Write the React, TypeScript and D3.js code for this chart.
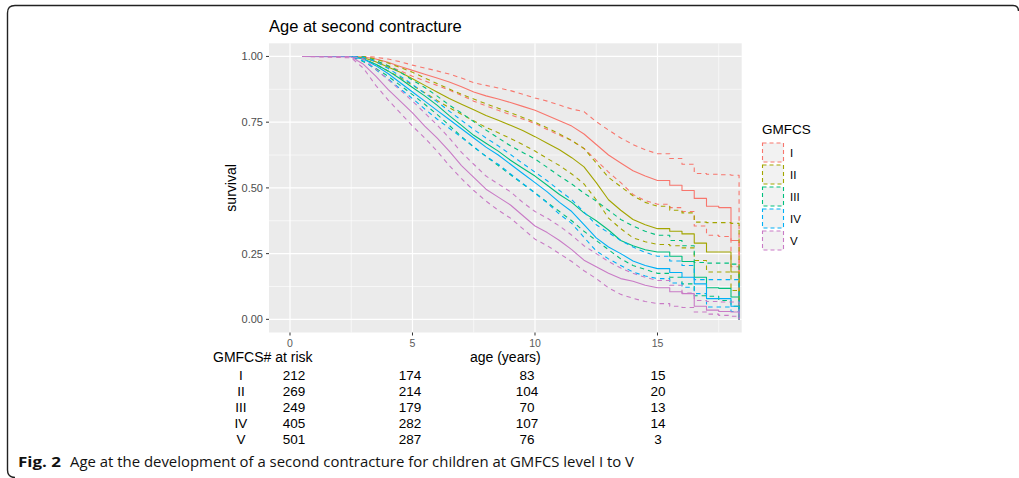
import React from "react";
import * as d3 from "d3";

const times = [0.5, 2.5, 3, 3.5, 4, 4.5, 5, 5.5, 6, 6.5, 7, 7.5, 8, 8.5, 9, 9.5, 10, 10.5, 11, 11.5, 12, 12.5, 13, 13.5, 14, 14.5, 15, 15.5, 16, 16.5, 17, 17.5, 18, 18.33];

const survI = [1, 1, 0.998, 0.99, 0.978, 0.962, 0.947, 0.932, 0.918, 0.903, 0.885, 0.865, 0.85, 0.838, 0.825, 0.81, 0.795, 0.775, 0.755, 0.735, 0.705, 0.665, 0.625, 0.595, 0.565, 0.545, 0.528, 0.51, 0.49, 0.46, 0.43, 0.425, 0.3, 0];
const upperI = [1, 1, 1, 0.997, 0.99, 0.98, 0.967, 0.956, 0.945, 0.933, 0.918, 0.9, 0.89, 0.88, 0.87, 0.856, 0.842, 0.83, 0.815, 0.8, 0.79, 0.752, 0.72, 0.69, 0.665, 0.645, 0.63, 0.612, 0.59, 0.555, 0.552, 0.55, 0.548, 0];
const lowerI = [1, 1, 0.993, 0.982, 0.965, 0.945, 0.925, 0.907, 0.89, 0.872, 0.852, 0.83, 0.812, 0.795, 0.778, 0.762, 0.745, 0.722, 0.7, 0.68, 0.65, 0.605, 0.56, 0.52, 0.475, 0.452, 0.438, 0.425, 0.41, 0.355, 0.32, 0.315, 0.2, 0];

const survII = [1, 1, 0.995, 0.98, 0.96, 0.94, 0.915, 0.89, 0.865, 0.84, 0.818, 0.797, 0.775, 0.757, 0.738, 0.718, 0.695, 0.67, 0.645, 0.615, 0.58, 0.52, 0.455, 0.415, 0.38, 0.36, 0.345, 0.335, 0.325, 0.29, 0.256, 0.256, 0.18, 0];
const upperII = [1, 1, 1, 0.99, 0.975, 0.958, 0.94, 0.918, 0.897, 0.876, 0.856, 0.838, 0.82, 0.803, 0.786, 0.768, 0.75, 0.728, 0.705, 0.68, 0.65, 0.595, 0.54, 0.505, 0.47, 0.445, 0.43, 0.415, 0.405, 0.37, 0.368, 0.368, 0.365, 0];
const lowerII = [1, 1, 0.99, 0.97, 0.945, 0.92, 0.89, 0.862, 0.833, 0.805, 0.78, 0.755, 0.73, 0.71, 0.688, 0.665, 0.64, 0.612, 0.585, 0.553, 0.515, 0.455, 0.385, 0.345, 0.31, 0.295, 0.285, 0.28, 0.272, 0.224, 0.18, 0.18, 0.11, 0];

const survIII = [1, 1, 0.99, 0.97, 0.945, 0.915, 0.882, 0.85, 0.815, 0.775, 0.738, 0.7, 0.67, 0.64, 0.605, 0.575, 0.545, 0.51, 0.475, 0.445, 0.405, 0.375, 0.34, 0.3, 0.28, 0.265, 0.256, 0.24, 0.22, 0.16, 0.12, 0.118, 0.085, 0];
const upperIII = [1, 1, 0.998, 0.985, 0.965, 0.94, 0.91, 0.882, 0.85, 0.815, 0.785, 0.752, 0.72, 0.69, 0.66, 0.635, 0.61, 0.578, 0.545, 0.515, 0.48, 0.45, 0.415, 0.38, 0.355, 0.335, 0.32, 0.3, 0.28, 0.216, 0.214, 0.214, 0.21, 0];
const lowerIII = [1, 1, 0.98, 0.955, 0.925, 0.89, 0.855, 0.818, 0.78, 0.738, 0.695, 0.655, 0.62, 0.585, 0.55, 0.515, 0.482, 0.445, 0.41, 0.375, 0.335, 0.3, 0.265, 0.23, 0.205, 0.19, 0.175, 0.16, 0.135, 0.09, 0.088, 0.072, 0.05, 0];

const survIV = [1, 1, 0.99, 0.965, 0.935, 0.9, 0.865, 0.83, 0.795, 0.76, 0.725, 0.69, 0.655, 0.625, 0.59, 0.555, 0.52, 0.485, 0.445, 0.41, 0.36, 0.31, 0.275, 0.25, 0.222, 0.205, 0.193, 0.178, 0.16, 0.135, 0.079, 0.079, 0.05, 0];
const upperIV = [1, 1, 0.997, 0.98, 0.955, 0.925, 0.893, 0.86, 0.828, 0.792, 0.757, 0.722, 0.69, 0.66, 0.627, 0.593, 0.56, 0.527, 0.49, 0.455, 0.408, 0.36, 0.33, 0.3, 0.275, 0.255, 0.24, 0.222, 0.205, 0.151, 0.151, 0.151, 0.151, 0];
const lowerIV = [1, 1, 0.983, 0.95, 0.915, 0.877, 0.84, 0.8, 0.762, 0.727, 0.692, 0.657, 0.62, 0.59, 0.553, 0.517, 0.48, 0.443, 0.4, 0.365, 0.312, 0.26, 0.23, 0.205, 0.18, 0.165, 0.155, 0.138, 0.122, 0.098, 0.047, 0.047, 0.03, 0];

const survV = [1, 0.998, 0.97, 0.925, 0.875, 0.83, 0.785, 0.735, 0.69, 0.64, 0.585, 0.54, 0.495, 0.465, 0.435, 0.395, 0.355, 0.33, 0.3, 0.265, 0.225, 0.2, 0.175, 0.155, 0.145, 0.13, 0.12, 0.105, 0.098, 0.05, 0.035, 0.03, 0.028, 0];
const upperV = [1, 1, 0.99, 0.952, 0.912, 0.872, 0.83, 0.785, 0.74, 0.69, 0.635, 0.59, 0.545, 0.515, 0.485, 0.445, 0.41, 0.385, 0.355, 0.32, 0.28, 0.25, 0.22, 0.195, 0.175, 0.16, 0.148, 0.13, 0.1, 0.072, 0.068, 0.066, 0.066, 0];
const lowerV = [1, 0.995, 0.955, 0.89, 0.835, 0.785, 0.735, 0.69, 0.64, 0.585, 0.535, 0.49, 0.45, 0.415, 0.385, 0.345, 0.305, 0.28, 0.25, 0.22, 0.185, 0.155, 0.12, 0.095, 0.08, 0.068, 0.06, 0.05, 0.045, 0.028, 0.02, 0.015, 0.012, 0];

const groups = ["I", "II", "III", "IV", "V"];
const colors = ["#F8766D", "#A3A500", "#00BF7D", "#00B0F6", "#C97BC6"];
const survSeries = [survI, survII, survIII, survIV, survV];
const upperSeries = [upperI, upperII, upperIII, upperIV, upperV];
const lowerSeries = [lowerI, lowerII, lowerIII, lowerIV, lowerV];

const xTicks = [0, 5, 10, 15];
const xMinor = [2.5, 7.5, 12.5, 17.5];
const yTicks = [0, 0.25, 0.5, 0.75, 1];
const yMinor = [0.125, 0.375, 0.625, 0.875];

const riskTimes = [0, 5, 10, 15];
const riskI = [212, 174, 83, 15];
const riskII = [269, 214, 104, 20];
const riskIII = [249, 179, 70, 13];
const riskIV = [405, 282, 107, 14];
const riskV = [501, 287, 76, 3];
const riskRows = [riskI, riskII, riskIII, riskIV, riskV];

const title = "Age at second contracture";
const captionBold = "Fig. 2";
const captionText = "Age at the development of a second contracture for children at GMFCS level I to V";

// beyond this age the steps are drawn explicitly (few subjects remain at risk)
const stepFrom = 15;

export default function App() {
  const W = 1019, H = 478;
  const panel = { left: 269, right: 741.7, top: 43.3, bottom: 332.5 };
  const x = d3.scaleLinear().domain([-0.857, 18.437]).range([panel.left, panel.right]);
  const y = d3.scaleLinear().domain([-0.05, 1.05]).range([panel.bottom, panel.top]);
  const tx = d3.scaleLinear().domain(riskTimes).range([294, 410, 527, 658]);
  const rowY = d3.scalePoint<string>().domain(groups).range([375, 439]);

  const line = (vals: number[]) => {
    const pts: [number, number][] = [];
    vals.forEach((v, i) => {
      if (i > 0 && times[i] > stepFrom) pts.push([times[i], vals[i - 1]]);
      pts.push([times[i], v]);
    });
    return d3.line<[number, number]>()
      .x((d) => x(d[0]))
      .y((d) => y(d[1]))
      .curve(d3.curveLinear)(pts) || "";
  };

  const font = "'Liberation Sans', Arial, Helvetica, sans-serif";

  return (
    <svg width={W} height={H} style={{ position: "absolute", left: 0, top: 0 }} fontFamily={font}>
      <rect width={W} height={H} fill="#fff" />
      <path d="M 1013 5.5 Q 1018.5 5.5 1018.5 11 M 1013 5.5 H 15 Q 7.5 5.5 7.5 13 V 470 Q 7.5 477.5 15 477.5"
        fill="none" stroke="#222" strokeWidth={1.4} />
      <defs>
        <clipPath id="pc">
          <rect x={panel.left} y={panel.top} width={panel.right - panel.left} height={panel.bottom - panel.top} />
        </clipPath>
      </defs>
      <rect x={panel.left} y={panel.top} width={panel.right - panel.left} height={panel.bottom - panel.top} fill="#EBEBEB" />
      {yMinor.map((v) => (
        <line key={"ym" + v} x1={panel.left} x2={panel.right} y1={y(v)} y2={y(v)} stroke="#fff" strokeWidth={0.6} />
      ))}
      {xMinor.map((v) => (
        <line key={"xm" + v} y1={panel.top} y2={panel.bottom} x1={x(v)} x2={x(v)} stroke="#fff" strokeWidth={0.6} />
      ))}
      {yTicks.map((v) => (
        <line key={"yM" + v} x1={panel.left} x2={panel.right} y1={y(v)} y2={y(v)} stroke="#fff" strokeWidth={1.2} />
      ))}
      {xTicks.map((v) => (
        <line key={"xM" + v} y1={panel.top} y2={panel.bottom} x1={x(v)} x2={x(v)} stroke="#fff" strokeWidth={1.2} />
      ))}
      <g clipPath="url(#pc)" fill="none" strokeLinejoin="round">
        {groups.map((g, gi) => (
          <g key={g} stroke={colors[gi]}>
            <path d={line(lowerSeries[gi])} strokeWidth={1.1} strokeDasharray="4.5,4" />
            <path d={line(upperSeries[gi])} strokeWidth={1.1} strokeDasharray="4.5,4" />
            <path d={line(survSeries[gi])} strokeWidth={1.1} />
          </g>
        ))}
      </g>
      {yTicks.map((v) => (
        <g key={"yt" + v}>
          <line x1={panel.left - 3} x2={panel.left} y1={y(v)} y2={y(v)} stroke="#333" strokeWidth={1} />
          <text x={panel.left - 6} y={y(v)} textAnchor="end" dominantBaseline="central" fontSize={11} fill="#4D4D4D">
            {d3.format(".2f")(v)}
          </text>
        </g>
      ))}
      {xTicks.map((v) => (
        <g key={"xt" + v}>
          <line x1={x(v)} x2={x(v)} y1={panel.bottom} y2={panel.bottom + 3} stroke="#333" strokeWidth={1} />
          <text x={x(v)} y={342.5} textAnchor="middle" dominantBaseline="central" fontSize={10.5} fill="#5A5A5A">
            {v}
          </text>
        </g>
      ))}
      <text x={panel.left} y={32} fontSize={16.5} fill="#000">{title}</text>
      <text transform={`translate(231,${(panel.top + panel.bottom) / 2}) rotate(-90)`} textAnchor="middle"
        dominantBaseline="central" fontSize={14} fill="#000">survival</text>
      <text x={(panel.left + panel.right) / 2} y={357} textAnchor="middle" dominantBaseline="central" fontSize={14} fill="#000">
        age (years)
      </text>

      <text x={762} y={129} dominantBaseline="central" fontSize={13.5} fill="#000">GMFCS</text>
      {groups.map((g, gi) => (
        <g key={"lg" + g}>
          <rect x={762.5} y={143 + gi * 22} width={21} height={19} fill="#F2F2F2" stroke={colors[gi]}
            strokeWidth={1.1} strokeDasharray="4,3" />
          <text x={790} y={152.5 + gi * 22} dominantBaseline="central" fontSize={11.5} fill="#000">{g}</text>
        </g>
      ))}

      <text x={213} y={356.5} dominantBaseline="central" fontSize={14} fill="#000">GMFCS# at risk</text>
      {groups.map((g, gi) => (
        <g key={"row" + g}>
          <text x={241} y={rowY(g)} textAnchor="middle" dominantBaseline="central" fontSize={13.5} fill="#000">{g}</text>
          {riskRows[gi].map((n, j) => (
            <text key={j} x={tx(riskTimes[j])} y={rowY(g)} textAnchor="middle" dominantBaseline="central" fontSize={13.5} fill="#000">
              {n}
            </text>
          ))}
        </g>
      ))}

      <text x={18} y={467} fontFamily="'Open Sans', 'Noto Sans', sans-serif" fontWeight="bold" fontSize={14}
        textLength={43} lengthAdjust="spacingAndGlyphs" fill="#111">{captionBold}</text>
      <text x={70} y={467} fontFamily="'Open Sans', 'Noto Sans', sans-serif" fontSize={14}
        textLength={564} lengthAdjust="spacingAndGlyphs" fill="#111">{captionText}</text>
    </svg>
  );
}
